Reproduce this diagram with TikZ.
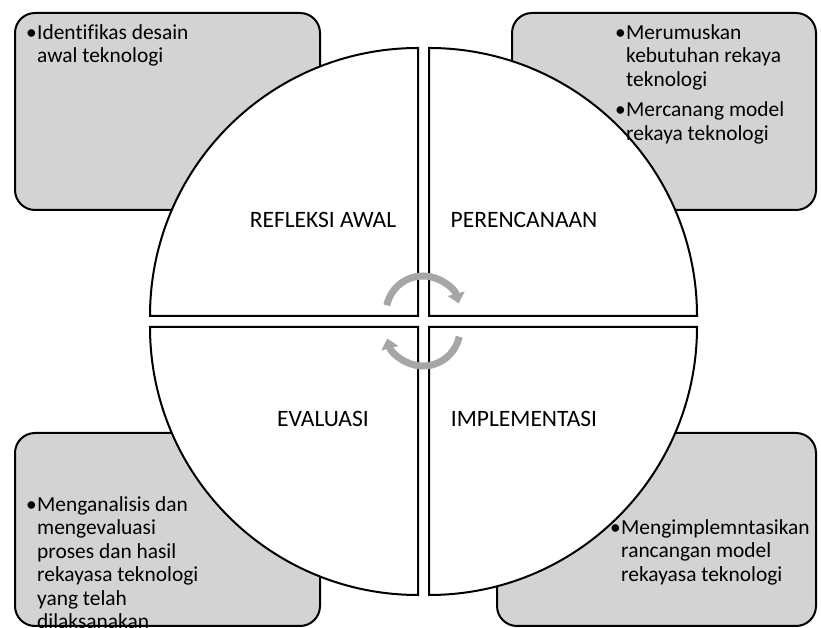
\documentclass[tikz,border=0pt]{standalone}
\usepackage{fontspec}
\setmainfont{Carlito}[Ligatures=NoCommon]
\usetikzlibrary{positioning}
\usetikzlibrary{arrows.meta}

\definecolor{abukotak}{RGB}{211,211,211}
\definecolor{abupanah}{RGB}{166,166,166}
\newcommand{\butir}{\makebox[11pt][l]{\textbullet}}
\newcommand{\lekuk}{\hspace*{11pt}}

\begin{document}
\begin{tikzpicture}[x=1pt,y=1pt,
 kotak/.style={draw=black,line width=2pt,fill=abukotak,rounded corners=20pt,inner sep=0pt},
 isi/.style={anchor=north west,inner sep=0pt,align=left,font=\fontsize{21.4}{23.5}\selectfont},
 kuadran/.style={draw=black,line width=2pt,fill=white},
 judul/.style={anchor=base,inner sep=0pt,font=\fontsize{23.5}{26}\selectfont},
 panah/.style={draw=abupanah,line width=7pt,-{Triangle[width=17pt,length=10pt]}}]
 \clip (0,0) rectangle (821,628);
 \fill[white] (0,0) rectangle (821,628);
 \node[kotak,minimum width=305pt,minimum height=197pt] (kotakA) at (167.5,516.5) {};
 \node[kotak,minimum width=304pt,minimum height=197pt] (kotakB) at (664,516.5) {};
 \node[kotak,minimum width=305pt,minimum height=193pt] (kotakC) at (167.5,98.5) {};
 \node[kotak,minimum width=319pt,minimum height=193pt] (kotakD) at (656.5,98.5) {};
 \draw[kuadran] (418,312) -- (150,312) arc (180:90:268) -- cycle;
 \draw[kuadran] (429,312) -- (429,580) arc (90:0:268) -- cycle;
 \draw[kuadran] (429,301) -- (697,301) arc (0:-90:268) -- cycle;
 \draw[kuadran] (418,301) -- (418,33) arc (-90:-180:268) -- cycle;
 \node[isi] (isiA) at ([xshift=12pt,yshift=-12pt]kotakA.north west) {\butir Identifikas desain\\ \lekuk awal teknologi};
 \node[isi] (isiB) at ([xshift=104pt,yshift=-12pt]kotakB.north west) {\butir Merumuskan\\ \lekuk kebutuhan rekaya\\ \lekuk teknologi\\[7pt] \butir Mercanang model\\ \lekuk rekaya teknologi};
 \node[isi] (isiC) at ([xshift=12pt,yshift=-64pt]kotakC.north west) {\butir Menganalisis dan\\ \lekuk mengevaluasi\\ \lekuk proses dan hasil\\ \lekuk rekayasa teknologi\\ \lekuk yang telah\\ \lekuk dilaksanakan};
 \node[isi] (isiD) at ([xshift=114pt,yshift=-87pt]kotakD.north west) {\butir Mengimplemntasikan\\ \lekuk rancangan model\\ \lekuk rekayasa teknologi};
 \node[judul] (refleksi) at (323,400) {REFLEKSI AWAL};
 \node[judul] (perencanaan) at (524,400) {PERENCANAAN};
 \node[judul] (evaluasi) at (323,201) {EVALUASI};
 \node[judul] (implementasi) at (524,201) {IMPLEMENTASI};
 \coordinate (pusatatas) at (423,315);
 \coordinate (pusatbawah) at (423,299);
 \draw[panah] ([shift={(168:37)}]pusatatas) arc (168:15:37);
 \draw[panah] ([shift={(-12:37)}]pusatbawah) arc (-12:-165:37);
\end{tikzpicture}
\end{document}
